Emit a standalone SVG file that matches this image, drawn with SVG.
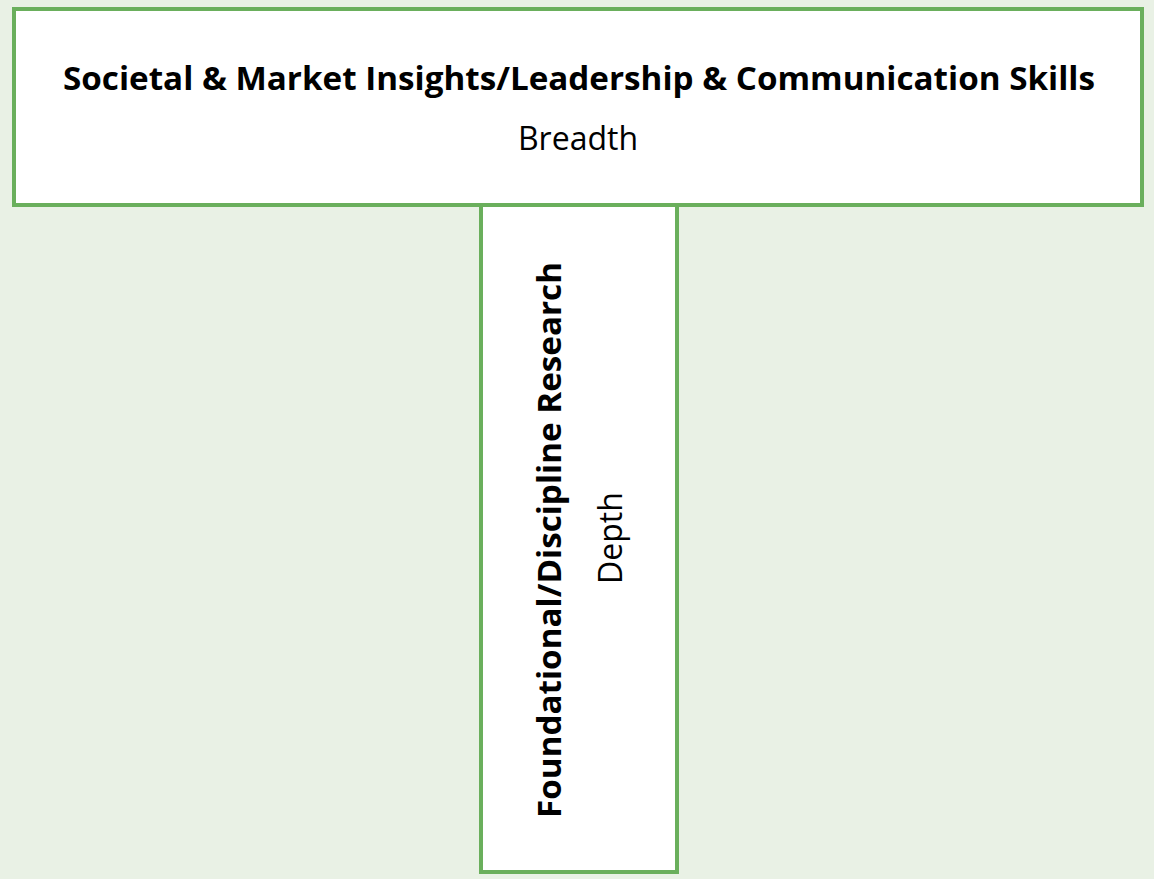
<svg xmlns="http://www.w3.org/2000/svg" width="1154" height="879" viewBox="0 0 1154 879">
<style>
.box{fill:#fff;stroke:#6aaf5c;stroke-width:4}
.t{font-family:"Open Sans","Liberation Sans",sans-serif;font-size:32px;fill:#000;text-anchor:middle}
.b{font-weight:bold}
</style>
<rect x="0" y="0" width="1154" height="879" fill="#e9f1e5"/>
<g id="depth">
<rect class="box" x="481" y="203" width="196" height="669"/>
<text class="t b" transform="translate(561,540) rotate(-90)" textLength="556" lengthAdjust="spacingAndGlyphs">Foundational/Discipline Research</text>
<text class="t" transform="translate(622,538) rotate(-90)">Depth</text>
</g>
<g id="breadth">
<rect class="box" x="14" y="9" width="1128" height="196"/>
<text class="t b" x="579" y="90" textLength="1032" lengthAdjust="spacingAndGlyphs">Societal &amp; Market Insights/Leadership &amp; Communication Skills</text>
<text class="t" x="578" y="150">Breadth</text>
</g>
<g id="connectors"/>
</svg>
